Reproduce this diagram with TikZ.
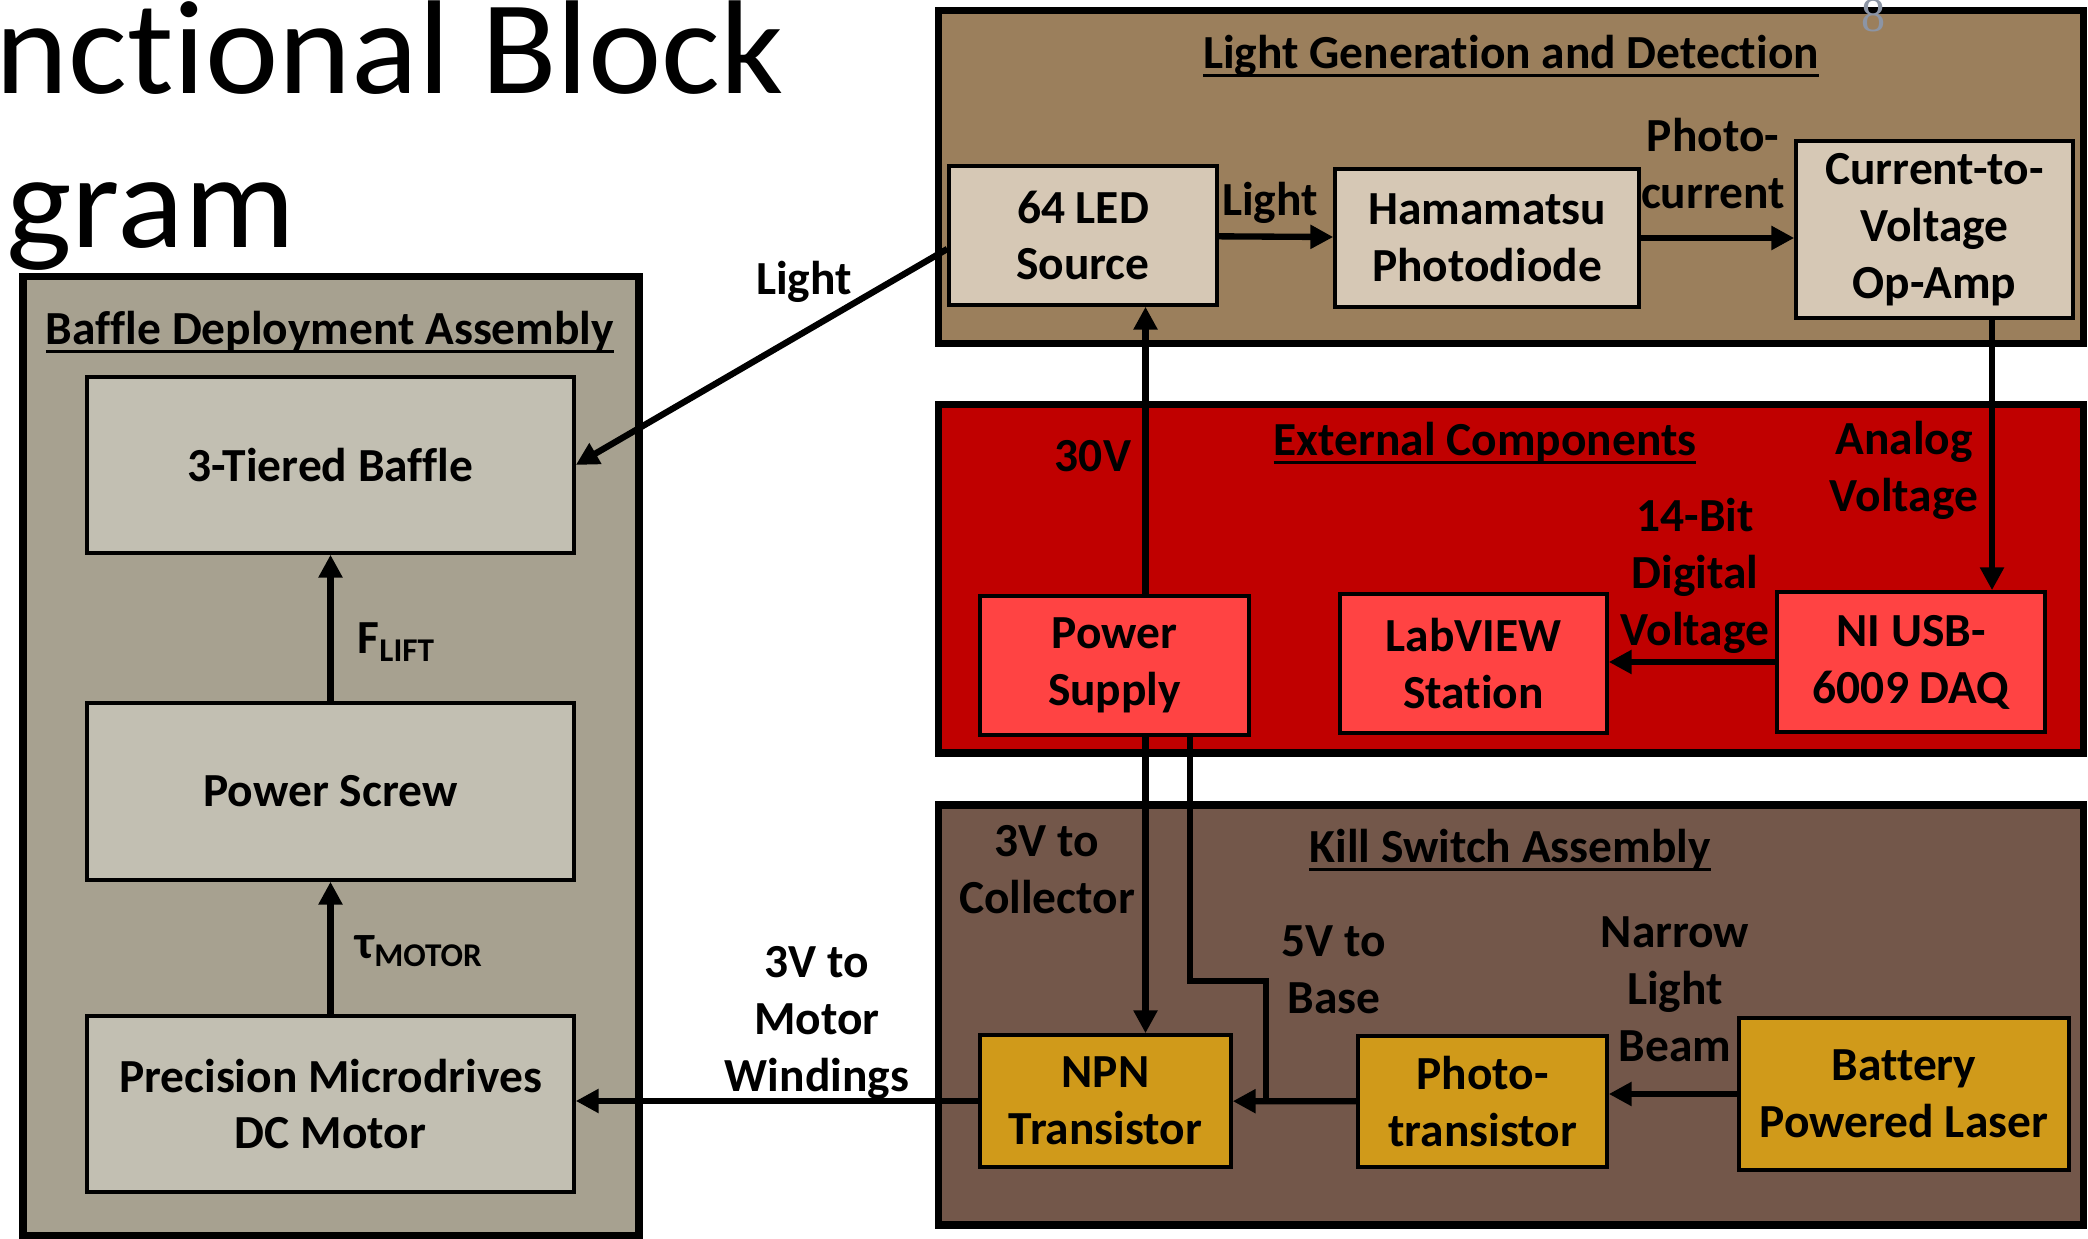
\documentclass[tikz,border=0pt]{standalone}
\usepackage{fontspec}
\setmainfont{Carlito}[Ligatures=NoCommon]
\newfontfamily\slidenum{Liberation Serif}
\newfontfamily\slidettl[FakeStretch=1.04,Ligatures=NoCommon]{Carlito}
\usepackage{tikz}
\usetikzlibrary{arrows.meta,positioning,calc}
\definecolor{BaffleGray}{HTML}{A7A190}
\definecolor{BaffleBox}{HTML}{C2BFB2}
\definecolor{LightBrown}{HTML}{9B7F5C}
\definecolor{LightBox}{HTML}{D6C8B5}
\definecolor{ExtRed}{HTML}{C00000}
\definecolor{ExtBox}{HTML}{FF4343}
\definecolor{KillBrown}{HTML}{73574A}
\definecolor{KillBox}{HTML}{D09A1A}
\definecolor{NumGray}{HTML}{8C95A5}
\newcommand{\titleline}[1]{\setbox0=\hbox{#1}\rlap{\rule[-2.4pt]{\wd0}{1.1pt}}\box0}

\begin{document}
\begin{tikzpicture}[x=1cm,y=1cm,>={Triangle[length=6.5pt,width=6.5pt]},every node/.style={font=\fontsize{13.5}{16.2}\selectfont\bfseries, align=center},
  panel/.style={draw=black, line width=2pt},
  block/.style={draw=black, line width=1pt, inner sep=2pt},
  conn/.style={line width=1.8pt},
  arr/.style={conn, ->}]
        \useasboundingbox (0,0) rectangle (20.88,12.39);
        \clip (0,0) rectangle (20.88,12.39);
        \node[font=\fontsize{38}{40}\selectfont\slidettl, anchor=base west, inner sep=0pt] (ttlA) at (-1.42,11.45) {Functional Block};
        \node[font=\fontsize{38}{40}\selectfont\slidettl, anchor=base west, inner sep=0pt] (ttlB) at (-1.78,9.91) {Diagram};
        \draw[panel, fill=BaffleGray] (0.23,0.03) rectangle (6.39,9.62);
        \draw[panel, fill=LightBrown] (9.38,8.95) rectangle (20.83,12.28);
        \draw[panel, fill=ExtRed] (9.38,4.86) rectangle (20.83,8.34);
        \draw[panel, fill=KillBrown] (9.38,0.14) rectangle (20.83,4.34);
        \node[font=\fontsize{13.7}{14}\selectfont\slidenum, text=NumGray, anchor=base] (pagenum) at (18.74,12.07) {8};
        \node[anchor=base] (bafttl) at (3.30,8.94) {\titleline{Baffle Deployment Assembly}};
        \node[anchor=base] (lightttl) at (15.11,11.70) {\titleline{Light Generation and Detection}};
        \node[anchor=base] (extttl) at (14.85,7.83) {\titleline{External Components}};
        \node[anchor=base] (killttl) at (15.10,3.76) {\titleline{Kill Switch Assembly}};
        \node[block, fill=BaffleBox, minimum width=4.87cm, minimum height=1.76cm] (baffle) at (3.305,7.74) {3-Tiered Baffle};
        \node[block, fill=BaffleBox, minimum width=4.87cm, minimum height=1.77cm] (screw) at (3.305,4.475) {Power Screw};
        \node[block, fill=BaffleBox, minimum width=4.87cm, minimum height=1.76cm] (motor) at (3.305,1.35) {Precision Microdrives\\DC Motor};
        \node[block, fill=LightBox, minimum width=2.68cm, minimum height=1.39cm] (led) at (10.83,10.035) {64 LED\\Source};
        \node[block, fill=LightBox, minimum width=3.04cm, minimum height=1.38cm] (pd) at (14.87,10.01) {Hamamatsu\\Photodiode};
        \node[block, fill=LightBox, minimum width=2.77cm, minimum height=1.77cm] (opamp) at (19.345,10.095) {Current-to-\\Voltage\\Op-Amp};
        \node[block, fill=ExtBox, minimum width=2.69cm, minimum height=1.39cm] (psu) at (11.145,5.735) {Power\\Supply};
        \node[block, fill=ExtBox, minimum width=2.67cm, minimum height=1.39cm] (lab) at (14.735,5.755) {LabVIEW\\Station};
        \node[block, fill=ExtBox, minimum width=2.68cm, minimum height=1.40cm] (daq) at (19.11,5.77) {NI USB-\\6009 DAQ};
        \node[block, fill=KillBox, minimum width=2.51cm, minimum height=1.32cm] (npn) at (11.055,1.38) {NPN\\Transistor};
        \node[block, fill=KillBox, minimum width=2.49cm, minimum height=1.31cm] (photo) at (14.825,1.375) {Photo-\\transistor};
        \node[block, fill=KillBox, minimum width=3.30cm, minimum height=1.52cm] (laser) at (19.04,1.45) {Battery\\Powered Laser};
        \draw[arr] (screw) -- (baffle);
        \draw[arr] (motor) -- (screw);
        \draw[arr] ([yshift=-0.135cm]led.west) -- (baffle.east);
        \draw[arr] (led) -- (pd);
        \draw[arr] (pd.east) -- (pd.east -| opamp.west);
        \draw[arr] ([xshift=0.31cm]psu.north) -- ([xshift=0.31cm]psu.north |- led.south);
        \draw[arr] ([xshift=0.575cm]opamp.south) -- ([xshift=0.575cm]opamp.south |- daq.north);
        \draw[arr] (daq.west) -- (daq.west -| lab.east);
        \draw[arr] ([xshift=0.31cm]psu.south) -- ([xshift=0.31cm]psu.south |- npn.north);
        \coordinate (bend) at (12.66,2.58);
        \draw[conn] ([xshift=0.755cm]psu.south) |- (bend) -- (bend |- npn.east);
        \draw[arr] (photo) -- (npn);
        \draw[arr] (laser.west) -- (laser.west -| photo.east);
        \draw[arr] (npn.west) -- (npn.west -| motor.east);
        \node[anchor=base west, inner sep=0pt] (flift) at (3.57,5.85) {F\textsubscript{LIFT}};
        \node[anchor=base west, inner sep=0pt] (tmotor) at (3.55,2.80) {τ\textsubscript{MOTOR}};
        \node[anchor=base] (lightA) at (8.04,9.44) {Light};
        \node[anchor=base] (lightB) at (12.70,10.23) {Light};
        \node (photocur) at (17.13,10.75) {Photo-\\current};
        \node[anchor=base] (v30) at (10.93,7.67) {30V};
        \node (analog) at (19.04,7.69) {Analog\\Voltage};
        \node (digital) at (16.95,6.63) {14-Bit\\Digital\\Voltage};
        \node (coll) at (10.47,3.69) {3V to\\Collector};
        \node (base5) at (13.34,2.69) {5V to\\Base};
        \node (beam) at (16.75,2.50) {Narrow\\Light\\Beam};
        \node (windings) at (8.17,2.16) {3V to\\Motor\\Windings};
\end{tikzpicture}
\end{document}
